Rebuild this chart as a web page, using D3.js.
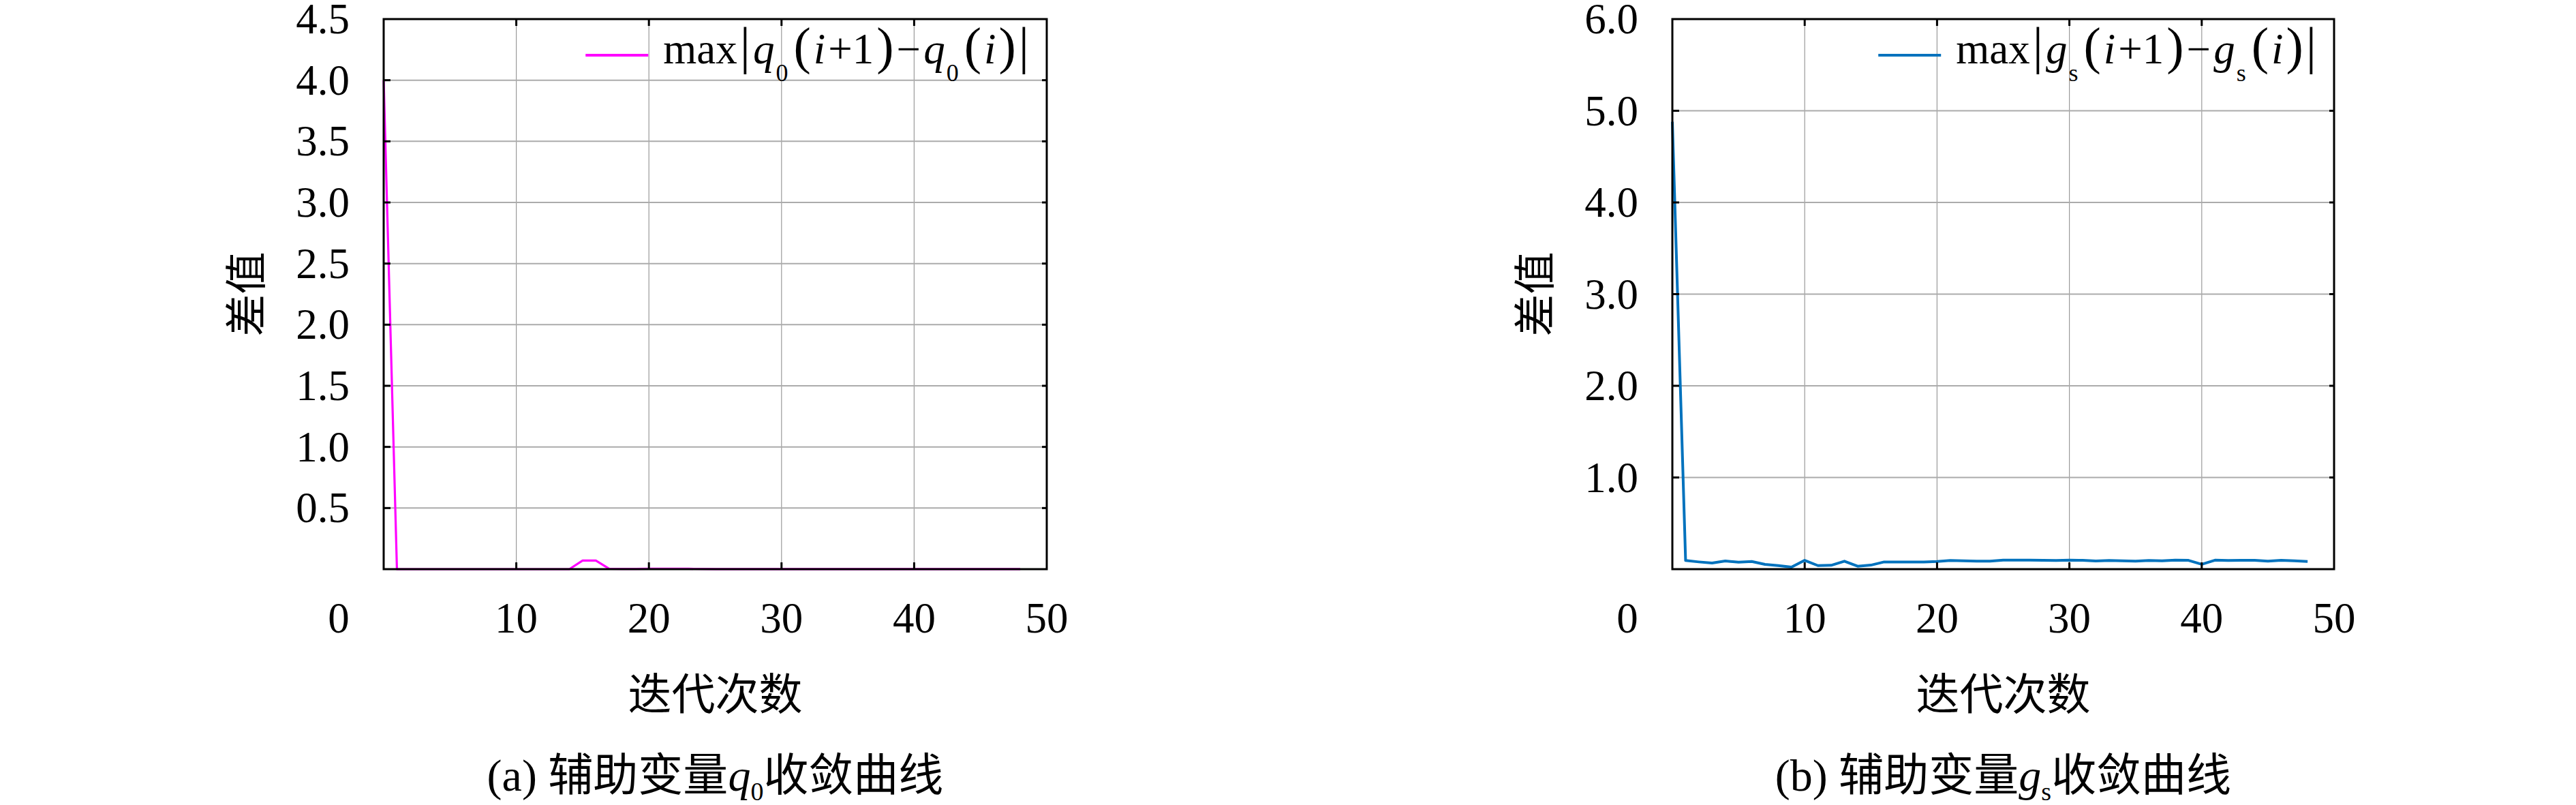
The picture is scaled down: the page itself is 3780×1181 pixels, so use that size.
<!DOCTYPE html>
<html><head><meta charset="utf-8">
<script src="https://cdn.jsdelivr.net/npm/d3@7"></script>
<style>
html,body{margin:0;padding:0;background:#fff;}
svg{display:block;}
</style></head>
<body>
<svg id="chart" width="3780" height="1181"></svg>
<script>
// ---------- data ----------
const iterations = [0,1,2,3,4,5,6,7,8,9,10,11,12,13,14,15,16,17,18,19,20,21,22,23,24,25,26,27,28,29,30,31,32,33,34,35,36,37,38,39,40,41,42,43,44,45,46,47,48];
const q0Diff = [4.0,0,0,0,0,0,0,0,0,0,0,0,0,0,0,0.07,0.07,0.003,0.002,0.002,0.004,0.004,0.003,0.003,0.002,0.001,0.001,0.001,0.001,0.001,0.001,0.001,0.001,0.001,0.001,0.001,0.001,0.001,0.001,0.001,0.001,0.001,0.001,0.001,0.001,0.001,0.001,0.001,0.001];
const gsDiff = [4.88,0.094,0.079,0.067,0.089,0.077,0.084,0.052,0.039,0.022,0.096,0.039,0.042,0.087,0.032,0.044,0.079,0.079,0.079,0.078,0.083,0.094,0.091,0.087,0.087,0.098,0.098,0.098,0.096,0.094,0.098,0.096,0.089,0.094,0.091,0.087,0.094,0.091,0.098,0.096,0.053,0.098,0.094,0.096,0.096,0.087,0.096,0.091,0.084];
const xTicks = [0,10,20,30,40,50];
const yTicksA = [0.5,1.0,1.5,2.0,2.5,3.0,3.5,4.0,4.5];
const yTicksB = [1.0,2.0,3.0,4.0,5.0,6.0];
const xLabel = "迭代次数";
const yLabel = "差值";

const svg = d3.select("#chart");
const SERIF = "'Liberation Serif','DejaVu Serif',serif";
const CJK = "'Noto Sans CJK SC','Noto Sans CJK JP',sans-serif";

function drawPanel(cfg){
  const {left,right,top,bottom,yMax,yTicks,values,color,varName,varSub,tag,lw} = cfg;
  const x = d3.scaleLinear().domain([0,50]).range([left,right]);
  const y = d3.scaleLinear().domain([0,yMax]).range([bottom,top]);
  const g = svg.append("g");

  // grid
  g.append("g").selectAll("line").data(xTicks.filter(t=>t>0&&t<50)).join("line")
    .attr("x1",d=>x(d)).attr("x2",d=>x(d)).attr("y1",top).attr("y2",bottom)
    .attr("stroke","#9a9a9a").attr("stroke-width",1.2);
  g.append("g").selectAll("line").data(yTicks.filter(t=>t<yMax)).join("line")
    .attr("x1",left).attr("x2",right).attr("y1",d=>y(d)).attr("y2",d=>y(d))
    .attr("stroke","#ababab").attr("stroke-width",2);

  // line
  const line = d3.line().x((d,i)=>x(iterations[i])).y(d=>y(d));
  g.append("path").datum(values).attr("d",line)
    .attr("fill","none").attr("stroke",color).attr("stroke-width",lw)
    .attr("stroke-linejoin","round");

  // frame
  g.append("rect").attr("x",left).attr("y",top).attr("width",right-left).attr("height",bottom-top)
    .attr("fill","none").attr("stroke","#000").attr("stroke-width",3);

  // inward ticks
  const tk = 10;
  xTicks.filter(t=>t>0&&t<50).forEach(t=>{
    g.append("line").attr("x1",x(t)).attr("x2",x(t)).attr("y1",bottom).attr("y2",bottom-tk).attr("stroke","#000").attr("stroke-width",3);
    g.append("line").attr("x1",x(t)).attr("x2",x(t)).attr("y1",top).attr("y2",top+tk).attr("stroke","#000").attr("stroke-width",3);
  });
  yTicks.filter(t=>t<yMax).forEach(t=>{
    g.append("line").attr("x1",left).attr("x2",left+tk).attr("y1",y(t)).attr("y2",y(t)).attr("stroke","#000").attr("stroke-width",3);
    g.append("line").attr("x1",right).attr("x2",right-tk+3).attr("y1",y(t)).attr("y2",y(t)).attr("stroke","#000").attr("stroke-width",3);
  });

  // tick labels
  const fs = 63;
  g.append("g").selectAll("text").data(xTicks).join("text")
    .attr("x",d=> d===0 ? x(d)-66 : x(d)).attr("y",bottom+93)
    .attr("text-anchor","middle").attr("font-family",SERIF).attr("font-size",fs)
    .text(d=>d);
  g.append("g").selectAll("text").data(yTicks).join("text")
    .attr("x",left-50).attr("y",d=>y(d)+21)
    .attr("text-anchor","end").attr("font-family",SERIF).attr("font-size",fs)
    .text(d=>d.toFixed(1));

  // axis labels
  g.append("text").attr("x",(left+right)/2).attr("y",1041)
    .attr("text-anchor","middle").attr("font-family",CJK).attr("font-size",64)
    .text(xLabel);
  const yl = left-206;
  g.append("text").attr("transform",`translate(${yl},${(top+bottom)/2}) rotate(-90)`)
    .attr("text-anchor","middle").attr("dominant-baseline","central")
    .attr("font-family",CJK).attr("font-size",62).text(yLabel);

  // legend
  const lt = g.append("text").attr("x",right-26).attr("y",93).attr("text-anchor","end")
    .attr("font-family",SERIF).attr("font-size",fs);
  // [text, italic, sub(1)/after-sub(-1), big delimiter]
  const parts = [
    ["max",false,0,false],["|",false,0,true],[varName,true,0,false],[varSub,false,1,false],["(",false,-1,true],
    ["i",true,0,false],["+1",false,0,false],[")",false,0,true],["−",false,0,false],[varName,true,0,false],[varSub,false,1,false],
    ["(",false,-1,true],["i",true,0,false],[")",false,0,true],["|",false,0,true]
  ];
  parts.forEach(([t,it,sub,big],k)=>{
    const s = lt.append("tspan").text(t);
    if(it) s.attr("font-style","italic");
    if(big) s.attr("font-size",76);
    let dx = k===0 ? 0 : 4;
    let dy = 0;
    if(sub===1){ s.attr("font-size",36); dy = 26; dx = 2; }
    if(sub===-1){ dy = -26; dx = 8; }
    s.attr("dx",dx); if(dy) s.attr("dy",dy);
  });
  const bb = lt.node().getBBox();
  const tStart = bb.x;
  g.append("line").attr("x1",tStart-114).attr("x2",tStart-22).attr("y1",81).attr("y2",81)
    .attr("stroke",color).attr("stroke-width",4);

  // caption
  const cap = g.append("text").attr("x",(left+right)/2).attr("y",1160).attr("text-anchor","middle")
    .attr("font-size",66);
  cap.append("tspan").attr("font-family",SERIF).text(`(${tag}) `);
  cap.append("tspan").attr("font-family",CJK).text("辅助变量");
  cap.append("tspan").attr("font-family",SERIF).attr("font-style","italic").text(varName);
  cap.append("tspan").attr("font-family",SERIF).attr("font-size",38).attr("dy",14).text(varSub);
  cap.append("tspan").attr("font-family",CJK).attr("dy",-14).text("收敛曲线");
}

drawPanel({left:563,right:1536,top:28,bottom:835,yMax:4.5,yTicks:yTicksA,values:q0Diff,color:"#ff00ff",varName:"q",varSub:"0",tag:"a",lw:3.2});
drawPanel({left:2454,right:3425,top:28,bottom:835,yMax:6,yTicks:yTicksB,values:gsDiff,color:"#0072bd",varName:"g",varSub:"s",tag:"b",lw:4});
</script>
</body></html>
